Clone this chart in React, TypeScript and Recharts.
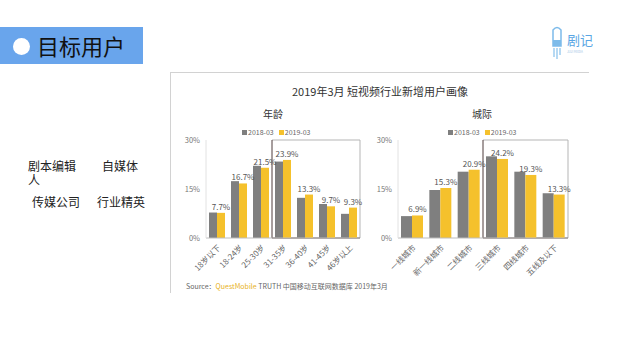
import React from "react";
import { BarChart, Bar, XAxis, YAxis, LabelList, ReferenceArea } from "recharts";

const SERIES = ["2018-03", "2019-03"];
const SERIES_COLORS = ["#7f7f7f", "#f5c12c"];

const AGE_CATS = ["18岁以下", "18-24岁", "25-30岁", "31-35岁", "36-40岁", "41-45岁", "46岁以上"];
const AGE_2018 = [7.8, 17.4, 22.1, 23.4, 12.3, 10.4, 7.4];
const AGE_2019 = [7.7, 16.7, 21.5, 23.9, 13.3, 9.7, 9.3];

const CITY_CATS = ["一线城市", "新一线城市", "二线城市", "三线城市", "四线城市", "五线及以下"];
const CITY_2018 = [6.7, 14.7, 20.3, 25.0, 20.3, 13.7];
const CITY_2019 = [6.9, 15.3, 20.9, 24.2, 19.3, 13.3];

const Y_TICKS = [0, 15, 30];

const FONT = '"Noto Sans CJK SC", "Noto Sans", sans-serif';

const build = (cats: string[], a: number[], b: number[]) =>
  cats.map((name, i) => ({ name, a: a[i], b: b[i] }));

// eslint-disable-next-line @typescript-eslint/no-explicit-any
const AngleTick = ({ x, y, payload }: any) => (
  <text x={x} y={y} dy={6} transform={`rotate(-45 ${x} ${y})`} textAnchor="end" fontSize={8} fill="#666" fontFamily={FONT}>
    {payload.value}
  </text>
);

// eslint-disable-next-line @typescript-eslint/no-explicit-any
const HighlightBox = ({ x, y, width, height }: any) => (
  <g>
    <path d={`M${x},${y} H${x + width} V${y + height}`} stroke="#b5b5b5" strokeWidth={1} fill="none" />
    <path d={`M${x},${y} V${y + height} H${x + width}`} stroke="#4e3c3c" strokeWidth={1} fill="none" />
  </g>
);

function MiniLegend({ left, top }: { left: number; top: number }) {
  return (
    <div style={{ position: "absolute", left, top, display: "flex", gap: 5, fontSize: 7, color: "#666", fontFamily: FONT, whiteSpace: "nowrap" }}>
      {SERIES.map((s, i) => (
        <span key={s} style={{ display: "flex", alignItems: "center", gap: 1 }}>
          <span style={{ width: 5, height: 5, background: SERIES_COLORS[i], display: "inline-block" }} />
          {s}
        </span>
      ))}
    </div>
  );
}

interface PanelProps {
  cats: string[];
  a: number[];
  b: number[];
  width: number;
  barSize: number;
  right: number;
  hi: [string, string];
}

function Panel({ cats, a, b, width, barSize, right, hi }: PanelProps) {
  const data = build(cats, a, b);
  return (
    <BarChart width={width} height={180} data={data} margin={{ top: 20, right, bottom: 12, left: 0 }} barGap={0} barSize={barSize}>
      <XAxis dataKey="name" interval={0} tick={<AngleTick />} tickLine={false} tickSize={4} tickMargin={2} height={50} axisLine={{ stroke: "#bdbdbd" }} />
      <YAxis
        domain={[0, 30]}
        ticks={Y_TICKS}
        width={36}
        tickLine={false}
        tickSize={4}
        tickMargin={2}
        axisLine={{ stroke: "#e2e2e2" }}
        tickFormatter={(v) => v + "%"}
        tick={{ fontSize: 7.5, fill: "#777", fontFamily: FONT }}
      />
      <ReferenceArea x1={hi[0]} x2={hi[1]} y1={0} y2={30} shape={<HighlightBox />} />
      <Bar dataKey="a" fill={SERIES_COLORS[0]} isAnimationActive={false} />
      <Bar dataKey="b" fill={SERIES_COLORS[1]} isAnimationActive={false}>
        <LabelList dataKey="b" position="top" offset={3} formatter={(v: number) => v.toFixed(1) + "%"} fontSize={8} fill="#555" fontFamily={FONT} />
      </Bar>
    </BarChart>
  );
}

export default function App() {
  return (
    <div style={{ position: "absolute", left: 0, top: 0, width: 640, height: 359, background: "#fff", fontFamily: FONT, overflow: "hidden" }}>
      {/* header */}
      <div style={{ position: "absolute", left: 0, top: 27, width: 143, height: 37, background: "#69a5ec" }}>
        <div style={{ position: "absolute", left: 13, top: 11, width: 17, height: 17, borderRadius: "50%", background: "#fff" }} />
        <div style={{ position: "absolute", left: 37, top: 3, fontSize: 22, lineHeight: "30px", color: "#111" }}>目标用户</div>
      </div>

      {/* logo */}
      <svg style={{ position: "absolute", left: 548, top: 26 }} width={60} height={34}>
        <path d="M5,4 Q9,-1 13,4 V20 H5 Z" fill="none" stroke="#7dbbea" strokeWidth={1.5} />
        <rect x={5} y={14} width={8} height={6} fill="#7dbbea" />
        <path d="M6,22 V31 M9,22 V33 M12,22 V29" stroke="#9fcdf0" strokeWidth={1.5} />
        <text x={19} y={19} fontSize={13} fill="#5aa6e4" fontFamily={FONT}>剧记</text>
        <text x={19} y={27} fontSize={3} fill="#9fc6e6" fontFamily={FONT}>JUJI MEDIA</text>
      </svg>

      {/* left text */}
      <div style={{ position: "absolute", left: 28, top: 159, width: 52, fontSize: 12, lineHeight: "14px", color: "#222" }}>剧本编辑人</div>
      <div style={{ position: "absolute", left: 102, top: 159, fontSize: 12, lineHeight: "14px", color: "#222" }}>自媒体</div>
      <div style={{ position: "absolute", left: 32, top: 195, fontSize: 12, lineHeight: "14px", color: "#222" }}>传媒公司</div>
      <div style={{ position: "absolute", left: 97, top: 195, fontSize: 12, lineHeight: "14px", color: "#222" }}>行业精英</div>

      {/* chart frame */}
      <div style={{ position: "absolute", left: 170, top: 72, width: 418, height: 220, borderTop: "1.5px solid #d2d2d2", borderLeft: "1.5px solid #d2d2d2" }} />
      <div style={{ position: "absolute", left: 170, top: 83, width: 420, textAlign: "center", fontSize: 11, color: "#333" }}>2019年3月 短视频行业新增用户画像</div>
      <div style={{ position: "absolute", left: 263, top: 106, fontSize: 10, color: "#333" }}>年龄</div>
      <div style={{ position: "absolute", left: 472, top: 106, fontSize: 10, color: "#333" }}>城际</div>

      <MiniLegend left={242} top={127} />
      <MiniLegend left={448} top={127} />

      <div style={{ position: "absolute", left: 170, top: 120 }}>
        <Panel cats={AGE_CATS} a={AGE_2018} b={AGE_2019} width={200} barSize={8} right={10} hi={["31-35岁", "46岁以上"]} />
      </div>
      <div style={{ position: "absolute", left: 362, top: 120 }}>
        <Panel cats={CITY_CATS} a={CITY_2018} b={CITY_2019} width={220} barSize={11} right={14} hi={["三线城市", "五线及以下"]} />
      </div>

      <div style={{ position: "absolute", left: 186, top: 281, fontSize: 7, color: "#666", whiteSpace: "nowrap" }}>
        Source：<span style={{ color: "#e8b21e" }}>QuestMobile</span> TRUTH 中国移动互联网数据库 2019年3月
      </div>
    </div>
  );
}
